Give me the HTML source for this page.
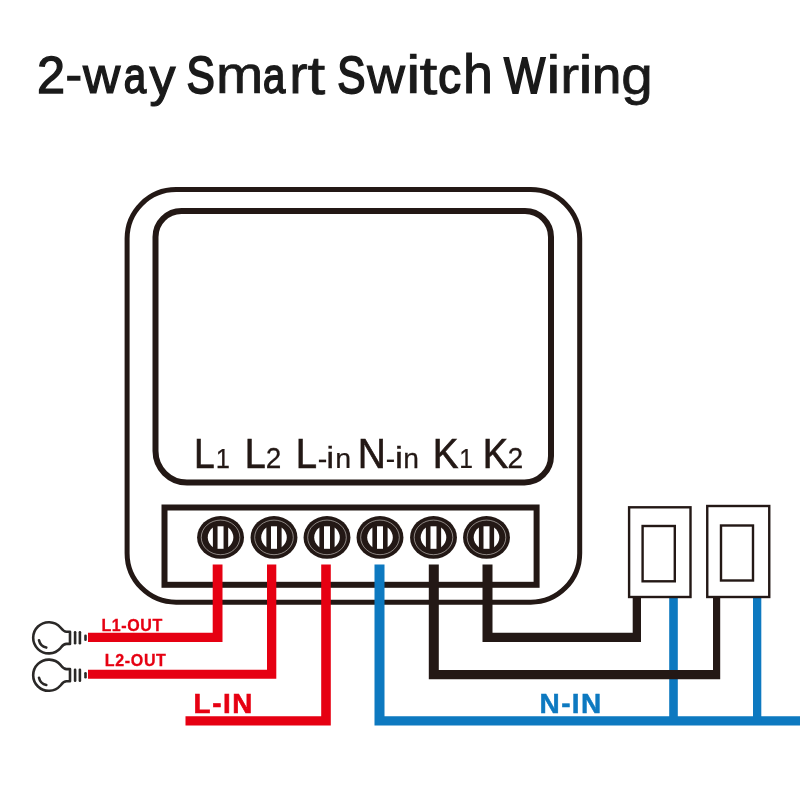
<!DOCTYPE html>
<html>
<head>
<meta charset="utf-8">
<title>2-way Smart Switch Wiring</title>
<style>
  html, body { margin: 0; padding: 0; background: #ffffff; }
  body { width: 800px; height: 800px; overflow: hidden; font-family: "Liberation Sans", sans-serif; }
  svg { display: block; will-change: transform; }
  text { font-family: "Liberation Sans", sans-serif; }
</style>
</head>
<body>
<svg width="800" height="800" viewBox="0 0 800 800">
  <rect x="0" y="0" width="800" height="800" fill="#ffffff"/>

  <!-- Title -->
  <g fill="#1a1a1a" stroke="#1a1a1a" stroke-width="1.2" font-size="52.5">
    <text transform="translate(36.89 93.05) scale(0.9613 0.9916)" stroke-width="1.41">2</text>
    <text transform="translate(65.87 91.47) scale(0.9210 0.8652)" stroke-width="1.68">-</text>
    <text transform="translate(82.95 93.15) scale(0.9836 0.9358)" stroke-width="1.28">w</text>
    <text transform="translate(123.77 93.21) scale(0.7673 0.9523)" stroke-width="1.90">a</text>
    <text transform="translate(149.48 94.62) scale(0.9907 0.9883)" stroke-width="1.23">y</text>
    <text transform="translate(186.59 93.14) scale(0.8094 0.9982)" stroke-width="1.90">S</text>
    <text transform="translate(216.03 93.38) scale(1.0819 0.9917)" stroke-width="0.74">m</text>
    <text transform="translate(263.02 93.21) scale(0.7621 0.9523)" stroke-width="1.90">a</text>
    <text transform="translate(289.30 93.31) scale(1.0523 0.9866)" stroke-width="0.89">r</text>
    <text transform="translate(307.56 93.82) scale(1.2157 1.0299)" stroke-width="0.70">t</text>
    <text transform="translate(337.34 93.14) scale(0.8063 0.9982)" stroke-width="1.90">S</text>
    <text transform="translate(367.18 93.18) scale(0.9941 0.9378)" stroke-width="1.21">w</text>
    <text transform="translate(405.97 93.39) scale(1.2419 1.0325)" stroke-width="0.70">i</text>
    <text transform="translate(419.46 93.82) scale(1.2228 1.0299)" stroke-width="0.70">t</text>
    <text transform="translate(438.29 93.21) scale(0.8641 0.9523)" stroke-width="1.90">c</text>
    <text transform="translate(463.06 93.21) scale(1.0241 1.0400)" stroke-width="1.04">h</text>
    <text transform="translate(504.10 92.83) scale(0.8327 0.9692)" stroke-width="1.90">W</text>
    <text transform="translate(546.23 93.39) scale(1.2231 1.0325)" stroke-width="0.70">i</text>
    <text transform="translate(560.13 93.38) scale(1.0817 0.9917)" stroke-width="0.74">r</text>
    <text transform="translate(578.27 93.39) scale(1.2419 1.0325)" stroke-width="0.70">i</text>
    <text transform="translate(592.10 93.18) scale(1.0010 0.9771)" stroke-width="1.17">n</text>
    <text transform="translate(621.13 94.11) scale(1.0795 1.0196)" stroke-width="0.75">g</text>
  </g>

  <!-- Device body -->
  <g fill="none" stroke="#231815">
    <rect x="127.100" y="189.600" width="452.600" height="412.600" rx="49" ry="49" stroke-width="5"/>
    <path d="M181.5 211 H525 A26 26 0 0 1 551 237 V456 A26.5 26.5 0 0 1 524.5 482.5 H187 A31.5 31.5 0 0 1 155.500 451 V237 A26 26 0 0 1 181.5 211 Z" stroke-width="6"/>
    <rect x="164.500" y="507.5" width="372.100" height="77.300" stroke-width="6"/>
  </g>

  <!-- Terminal labels -->
  <g fill="#231815" stroke="#231815" stroke-width="0.35">
    <text transform="translate(194.05 467.75) scale(0.8631 1)" font-size="43.10" stroke-width="0.7">L</text>
    <text transform="translate(215.81 467.75) scale(0.8933 1)" font-size="28.56" stroke-width="0.25">1</text>
    <text transform="translate(244.65 467.75) scale(0.8762 1)" font-size="43.10" stroke-width="0.7">L</text>
    <text transform="translate(265.84 467.75) scale(0.9771 1)" font-size="28.64" stroke-width="0.25">2</text>
    <text transform="translate(295.86 467.75) scale(0.8894 1)" font-size="43.10" stroke-width="0.7">L</text>
    <text transform="translate(317.73 468.13) scale(1.0419 1)" font-size="27.52" stroke-width="0.25">-</text>
    <text transform="translate(326.35 467.75) scale(1.2456 1)" font-size="28.77" stroke-width="0.25">i</text>
    <text transform="translate(335.35 467.75) scale(1.0092 1)" font-size="28.34" stroke-width="0.25">n</text>
    <text transform="translate(357.81 467.75) scale(0.9035 1)" font-size="43.10" stroke-width="0.7">N</text>
    <text transform="translate(385.84 468.13) scale(1.0270 1)" font-size="27.52" stroke-width="0.25">-</text>
    <text transform="translate(394.70 467.75) scale(1.3246 1)" font-size="28.77" stroke-width="0.25">i</text>
    <text transform="translate(403.37 467.75) scale(0.9967 1)" font-size="28.34" stroke-width="0.25">n</text>
    <text transform="translate(432.84 467.75) scale(0.8938 1)" font-size="43.10" stroke-width="0.7">K</text>
    <text transform="translate(459.37 467.75) scale(0.8648 1)" font-size="28.56" stroke-width="0.25">1</text>
    <text transform="translate(482.78 467.75) scale(0.8837 1)" font-size="43.10" stroke-width="0.7">K</text>
    <text transform="translate(507.58 467.75) scale(0.9886 1)" font-size="28.64" stroke-width="0.25">2</text>
  </g>

  <!-- Screw terminals -->
  <defs>
    <g id="screw">
      <ellipse cx="0" cy="0" rx="23.45" ry="21.4" fill="#231815"/>
      <ellipse cx="0" cy="0" rx="19.3" ry="17.3" fill="none" stroke="#e6e1de" stroke-width="0.55"/>
      <path d="M-7.65 -9.78 A12.8 12.2 0 0 0 -7.65 9.78 Z" fill="#ffffff"/>
      <path d="M7.65 -9.78 A12.8 12.2 0 0 1 7.65 9.78 Z" fill="#ffffff"/>
      <rect x="-3" y="-11.1" width="6" height="22.5" fill="#ffffff"/>
    </g>
  </defs>
  <use href="#screw" x="220.55" y="537.4"/>
  <use href="#screw" x="274" y="537.4"/>
  <use href="#screw" x="327" y="537.4"/>
  <use href="#screw" x="380" y="537.4"/>
  <use href="#screw" x="433.5" y="537.4"/>
  <use href="#screw" x="486.5" y="537.4"/>

  <!-- Blue wires -->
  <g fill="#0d79c0">
    <polygon points="374.5,564.5 384.5,564.5 384.5,716.3 800,716.3 800,725.6 374.5,725.6"/>
    <rect x="669.2" y="597" width="8.6" height="125"/>
    <rect x="753" y="597" width="8.3" height="125"/>
  </g>

  <!-- Black wires -->
  <g fill="#231815">
    <polygon points="482.5,564.5 492.5,564.5 492.5,632.7 632.7,632.7 632.7,597 641,597 641,641.9 482.5,641.9"/>
    <polygon points="428.8,564.5 438.8,564.5 438.8,670 713,670 713,597 720.2,597 720.2,679.2 428.8,679.2"/>
  </g>

  <!-- Red wires -->
  <g fill="#e60012">
    <polygon points="212.7,564.5 222.5,564.5 222.5,642 88,642 88,632.7 212.7,632.7"/>
    <polygon points="267,564.5 276.3,564.5 276.3,678.8 88,678.8 88,669.8 267,669.8"/>
    <polygon points="321.2,564.5 330.8,564.5 330.8,725.6 185.5,725.6 185.5,716.3 321.2,716.3"/>
  </g>

  <!-- Wall switches -->
  <g fill="#ffffff" stroke="#231815" stroke-width="2.4">
    <rect x="629.100" y="507.300" width="61.400" height="89.700"/>
    <rect x="642.600" y="526" width="32.200" height="55.300"/>
    <rect x="707.25" y="506" width="62" height="91"/>
    <rect x="721" y="525.5" width="32" height="55"/>
  </g>

  <!-- Bulbs -->
  <defs>
    <g id="bulb" fill="none" stroke="#2a2827" stroke-width="2.6" stroke-linecap="round" stroke-linejoin="round">
      <path d="M70 -6.1 H66.500 C63.500 -6.100 62.300 -8 60.500 -10.300 A15.600 15.600 0 1 0 60.500 10.300 C62.300 8 63.500 6.100 66.500 6.100 H70 Z" fill="#ffffff"/>
      <path d="M39 2.500 A9.500 9.500 0 0 0 46.300 9.800"/>
      <path d="M75.100 -5.500 V5.500"/>
      <path d="M79.900 -5.500 V5.500"/>
      <path d="M85.500 -2 V2"/>
    </g>
  </defs>
  <use href="#bulb" x="0" y="637.800"/>
  <use href="#bulb" x="0" y="675.200"/>

  <!-- Wire labels -->
  <g font-weight="bold">
    <text x="101.500" y="631" font-size="16" fill="#e60012" stroke="#e60012" stroke-width="0.3" textLength="60.700" lengthAdjust="spacing">L1-OUT</text>
    <text x="104.700" y="666" font-size="16" fill="#e60012" stroke="#e60012" stroke-width="0.3" textLength="61.200" lengthAdjust="spacing">L2-OUT</text>
    <text x="193.600" y="712.600" font-size="27.8" fill="#e60012" stroke="#e60012" stroke-width="0.6" textLength="58.700" lengthAdjust="spacing">L-IN</text>
    <text x="539.600" y="712.500" font-size="28" fill="#0d79c0" stroke="#0d79c0" stroke-width="0.5" textLength="61.600" lengthAdjust="spacing">N-IN</text>
  </g>
</svg>
</body>
</html>
